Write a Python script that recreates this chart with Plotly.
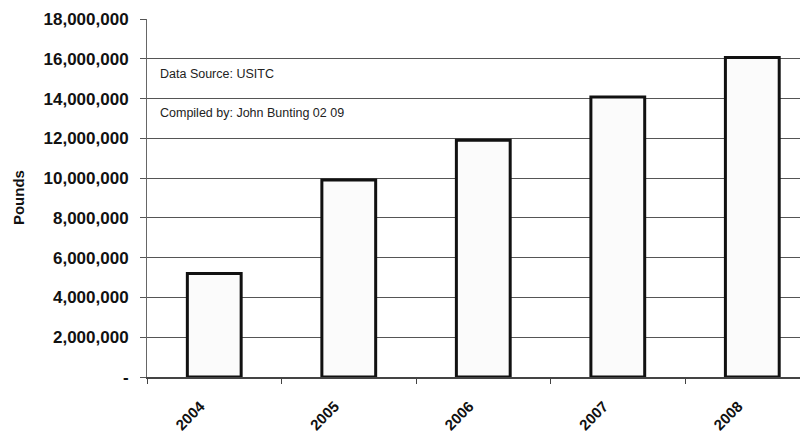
import plotly.graph_objects as go

years = ["2004", "2005", "2006", "2007", "2008"]
pounds = [5200000, 9900000, 11900000, 14080000, 16060000]
tick_vals = [0, 2000000, 4000000, 6000000, 8000000, 10000000, 12000000, 14000000, 16000000, 18000000]
tick_text = ["-", "2,000,000", "4,000,000", "6,000,000", "8,000,000", "10,000,000",
             "12,000,000", "14,000,000", "16,000,000", "18,000,000"]
notes = ["Data Source: USITC", "Compiled by: John Bunting 02 09"]

FONT = "Liberation Sans, Arial, sans-serif"

fig = go.Figure()
fig.add_trace(go.Bar(
    x=years, y=pounds, width=0.40,
    marker=dict(color="#fbfbfb", line=dict(color="#111111", width=3)),
))

# page body has an 8px default margin, so the figure is 8px smaller
fig.update_layout(
    width=800, height=428,
    margin=dict(l=139, r=0, t=11, b=59),
    paper_bgcolor="white", plot_bgcolor="white",
    showlegend=False,
    font=dict(family=FONT, color="#111111"),
)
fig.update_xaxes(
    type="category", range=[-0.5, 4.414], tickson="boundaries",
    ticks="outside", ticklen=5, tickcolor="#444444",
    tickangle=-45, tickfont=dict(size=15, family=FONT, weight="bold"),
    ticklabelstandoff=13, ticklabelshift=-14,
    showline=True, linecolor="#444444", linewidth=1.5,
    showgrid=False, automargin=False,
)
fig.update_yaxes(
    range=[0, 18000000], tickvals=tick_vals, ticktext=tick_text,
    ticks="outside", ticklen=6, tickcolor="#555555",
    tickfont=dict(size=17, family=FONT, weight="bold"),
    ticklabelstandoff=8,
    showline=True, linecolor="#666666", linewidth=1,
    showgrid=True, gridcolor="#555555", gridwidth=1,
    zeroline=False, automargin=False,
)
fig.add_annotation(text="Pounds", xref="paper", yref="paper", x=-0.195, y=0.5,
                   textangle=-90, showarrow=False,
                   xanchor="center", yanchor="middle",
                   font=dict(size=15, family=FONT, weight="bold"))
for txt, yp in zip(notes, [0.846, 0.737]):
    fig.add_annotation(text=txt, xref="paper", yref="paper", x=0.016, y=yp,
                       xanchor="left", yanchor="middle", showarrow=False,
                       font=dict(size=12.5, family=FONT, color="#222222"))

fig.write_html("out.html")
